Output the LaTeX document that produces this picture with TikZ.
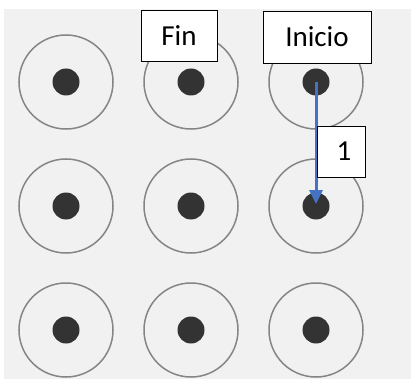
\documentclass[tikz,border=0pt]{standalone}
\usepackage{fontspec}
\setmainfont{Carlito}
\usepackage{tikz}
\usetikzlibrary{arrows.meta}
\usetikzlibrary{positioning}

\definecolor{panelgray}{HTML}{F1F1F1}
\definecolor{ringgray}{HTML}{858585}
\definecolor{dotgray}{HTML}{333333}
\definecolor{pathblue}{HTML}{4472C4}

\begin{document}
\begin{tikzpicture}[
    x=1pt, y=-1pt,
    ring/.style={
        circle,
        minimum size=94pt,
        draw=ringgray,
        line width=1.5pt
    },
    dot/.style={
        circle,
        minimum size=27pt,
        inner sep=0pt,
        fill=dotgray
    },
    tagbox/.style={
        draw=black,
        fill=white,
        line width=0.9pt,
        inner sep=0pt,
        font=\fontsize{29}{33}\selectfont
    }
]
        \useasboundingbox (0,0) rectangle (411,379);
        \fill[panelgray] (4,9) rectangle (411,379);

        % rejilla de 3x3 puntos
        \foreach \r/\y in {1/82, 2/206, 3/330} {
            \foreach \c/\x in {1/66, 2/191, 3/316} {
                \node[ring] (r\r\c) at (\x,\y) {};
                \node[dot] (p\r\c) at (\x,\y) {};
            }
        }

        \draw[pathblue, line width=3pt, -{Triangle[length=14pt, width=13pt]}]
            (p13.center) -- ([yshift=2pt]p23.center);

        \node[tagbox, minimum width=76pt, minimum height=51pt] (fin) at (179,35.5) {Fin};
        \node[tagbox, minimum width=108pt, minimum height=52pt] (inicio) at (317,37) {Inicio};
        \node[tagbox, minimum width=48pt, minimum height=51pt] (paso) at (341,151.5) {\hspace*{6pt}1};

\end{tikzpicture}
\end{document}
